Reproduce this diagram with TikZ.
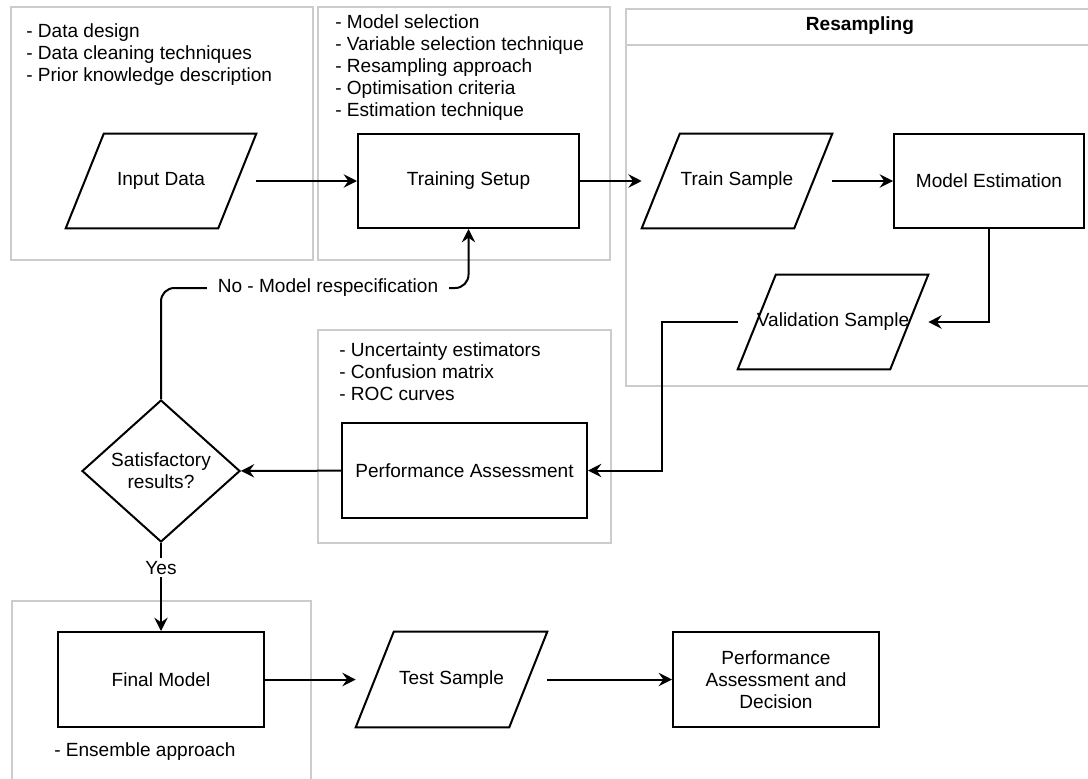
\documentclass[tikz,border=0pt]{standalone}
\usepackage{fontspec}
\setmainfont{Liberation Sans}
\usetikzlibrary{arrows.meta,shapes.geometric,calc,positioning}

\begin{document}
\begin{tikzpicture}[x=0.75pt,y=-0.75pt,
  font=\fontsize{14.3pt}{16.6pt}\selectfont,
  group/.style={draw=black!20,line width=1.5pt},
  process/.style={draw,line width=1.5pt,minimum height=70.5pt,inner sep=0pt,align=center},
  data/.style={minimum width=142.5pt,minimum height=70.5pt,inner sep=0pt,align=center},
  decide/.style={diamond,draw,line width=1.5pt,aspect=1.11,minimum width=118.5pt,minimum height=106.5pt,inner sep=0pt,align=center},
  notes/.style={anchor=north west,align=left,inner sep=0pt},
  flow/.style={line width=1.5pt,-{Stealth[length=10pt,width=10pt,inset=3.5pt]}}]
\useasboundingbox (0,0) rectangle (1088,778);
% draw group frames
\draw[group] (11,7) rectangle (313,260);
\draw[group] (318,7) rectangle (610,260);
\draw[group] (626,9) rectangle (1100,386);
\draw[group] (626,45) -- (1100,45);
\draw[group] (318,330) rectangle (611,543);
\draw[group] (12,601) rectangle (311,800);
% draw notes
\node[notes] (datanotes) at (26,23) {- Data design\\- Data cleaning techniques\\- Prior knowledge description};
\node[notes] (setupnotes) at (335,14) {- Model selection\\- Variable selection technique\\- Resampling approach\\- Optimisation criteria\\- Estimation technique};
\node[notes] (perfnotes) at (339,342) {- Uncertainty estimators\\- Confusion matrix\\- ROC curves};
\node[notes] (finalnotes) at (54,742) {- Ensemble approach};
\node (resampling) at (860,26) {\textbf{Resampling}};
% draw nodes
\node[data] (input) at (161,181) {Input Data};
\node[process,minimum width=165.75pt] (setup) at (468.5,181) {Training Setup};
\node[data] (train) at (737,181) {Train Sample};
\node[process,minimum width=142.5pt] (model) at (989,181) {Model Estimation};
\node[data] (valid) at (833,322) {Validation Sample};
\node[process,minimum width=183.75pt,minimum height=71.25pt] (perf) at (464.5,470.5) {Performance Assessment};
\node[decide] (sat) at (161,471) {Satisfactory\\results?};
\node[process,minimum width=154.5pt,minimum height=71.25pt] (final) at (161,679.5) {Final Model};
\node[data,minimum width=143.25pt,minimum height=71.25pt] (test) at (451.5,679.5) {Test Sample};
\node[process,minimum width=154.5pt,minimum height=71.25pt] (decision) at (776,679.5) {Performance\\Assessment and\\Decision};
% draw data shapes
\foreach \n in {input,train,valid,test}
  \draw[line width=1.5pt] ($(\n.north west)+(38,0)$) -- (\n.north east) -- ($(\n.south east)+(-38,0)$) -- (\n.south west) -- cycle;
% draw connectors
\draw[flow] (input) -- (setup);
\draw[flow] (setup) -- (train);
\draw[flow] (train) -- (model);
\draw[flow] (model.south) |- (valid.east);
\draw[flow] (valid.west) -- ++(-76,0) |- (perf.east);
\draw[flow] (perf) -- (sat);
\coordinate (nobend) at (328,288);
\draw[flow,rounded corners=10pt] (sat.north) |- (nobend) node[fill=white,inner xsep=8pt] (nolabel) {No - Model respecification} -| (setup.south);
\draw[flow] (sat.south) -- node[pos=0.28,fill=white,inner sep=2pt] (yeslabel) {Yes} (final.north);
\draw[flow] (final) -- (test);
\draw[flow] (test) -- (decision);
\end{tikzpicture}
\end{document}
